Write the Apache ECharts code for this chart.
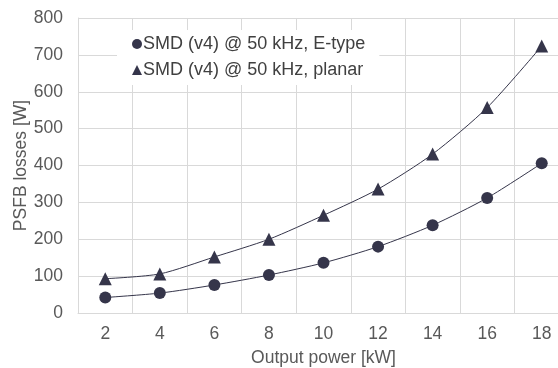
<!DOCTYPE html>
<html>
<head>
<meta charset="utf-8">
<script src="https://cdn.jsdelivr.net/npm/echarts@6/dist/echarts.min.js"></script>
<style>html,body{margin:0;padding:0;background:#fff}#c{width:558px;height:368px}</style>
</head>
<body>
<div id="c"></div>
<script>
var categories = ['2','4','6','8','10','12','14','16','18'];
var eTypeLosses = [42, 54, 76, 103, 136, 180, 238, 312, 406];
var planarLosses = [93, 106, 152, 200, 265, 336, 431, 557, 724];
var yTicks = {min: 0, max: 800, interval: 100};
var seriesNames = ['SMD (v4) @ 50 kHz, E-type', 'SMD (v4) @ 50 kHz, planar'];

var FONT = 'Liberation Sans, Arial, sans-serif';
var MARK = '#35354a';
var chart = echarts.init(document.getElementById('c'), null, {renderer: 'canvas'});
chart.setOption({
  animation: false,
  backgroundColor: '#fff',
  textStyle: {fontFamily: FONT},
  grid: {left: 78, top: 18, bottom: 55, right: -11, containLabel: false, outerBoundsMode: 'none'},
  legend: {
    orient: 'vertical', left: 117, top: 30,
    backgroundColor: '#fff',
    padding: [4, 14, 5, 15],
    itemGap: 6, itemWidth: 10, itemHeight: 10,
    textStyle: {fontSize: 18, color: '#404040', fontFamily: FONT, lineHeight: 20, padding: [0,0,0,-4]},
    data: [
      {name: seriesNames[0], icon: 'circle'},
      {name: seriesNames[1], icon: 'triangle'}
    ]
  },
  xAxis: {
    type: 'category', data: categories, boundaryGap: true,
    name: 'Output power [kW]', nameLocation: 'middle', nameGap: 36, nameMoveOverlap: false,
    nameTextStyle: {fontSize: 17.5, color: '#595959', fontFamily: FONT},
    axisLine: {lineStyle: {color: '#d9d9d9'}},
    axisTick: {show: false},
    axisLabel: {fontSize: 17.5, color: '#595959', margin: 12, fontFamily: FONT},
    splitLine: {show: true, lineStyle: {color: '#d9d9d9', width: 1}}
  },
  yAxis: {
    type: 'value', min: yTicks.min, max: yTicks.max, interval: yTicks.interval,
    name: 'PSFB losses [W]', nameLocation: 'middle', nameGap: 48, nameMoveOverlap: false,
    nameTextStyle: {fontSize: 17.5, color: '#595959', fontFamily: FONT},
    axisLine: {show: true, lineStyle: {color: '#d9d9d9'}},
    axisTick: {show: false},
    axisLabel: {fontSize: 17.5, color: '#595959', margin: 15, fontFamily: FONT},
    splitLine: {lineStyle: {color: '#d9d9d9', width: 1}}
  },
  series: [
    {
      name: seriesNames[0], type: 'line', data: eTypeLosses, smooth: 0.25,
      symbol: 'circle', symbolSize: 12,
      itemStyle: {color: MARK}, lineStyle: {color: MARK, width: 1}
    },
    {
      name: seriesNames[1], type: 'line', data: planarLosses, smooth: 0.25,
      symbol: 'triangle', symbolSize: 13,
      itemStyle: {color: MARK}, lineStyle: {color: MARK, width: 1}
    }
  ]
});
</script>
</body>
</html>
